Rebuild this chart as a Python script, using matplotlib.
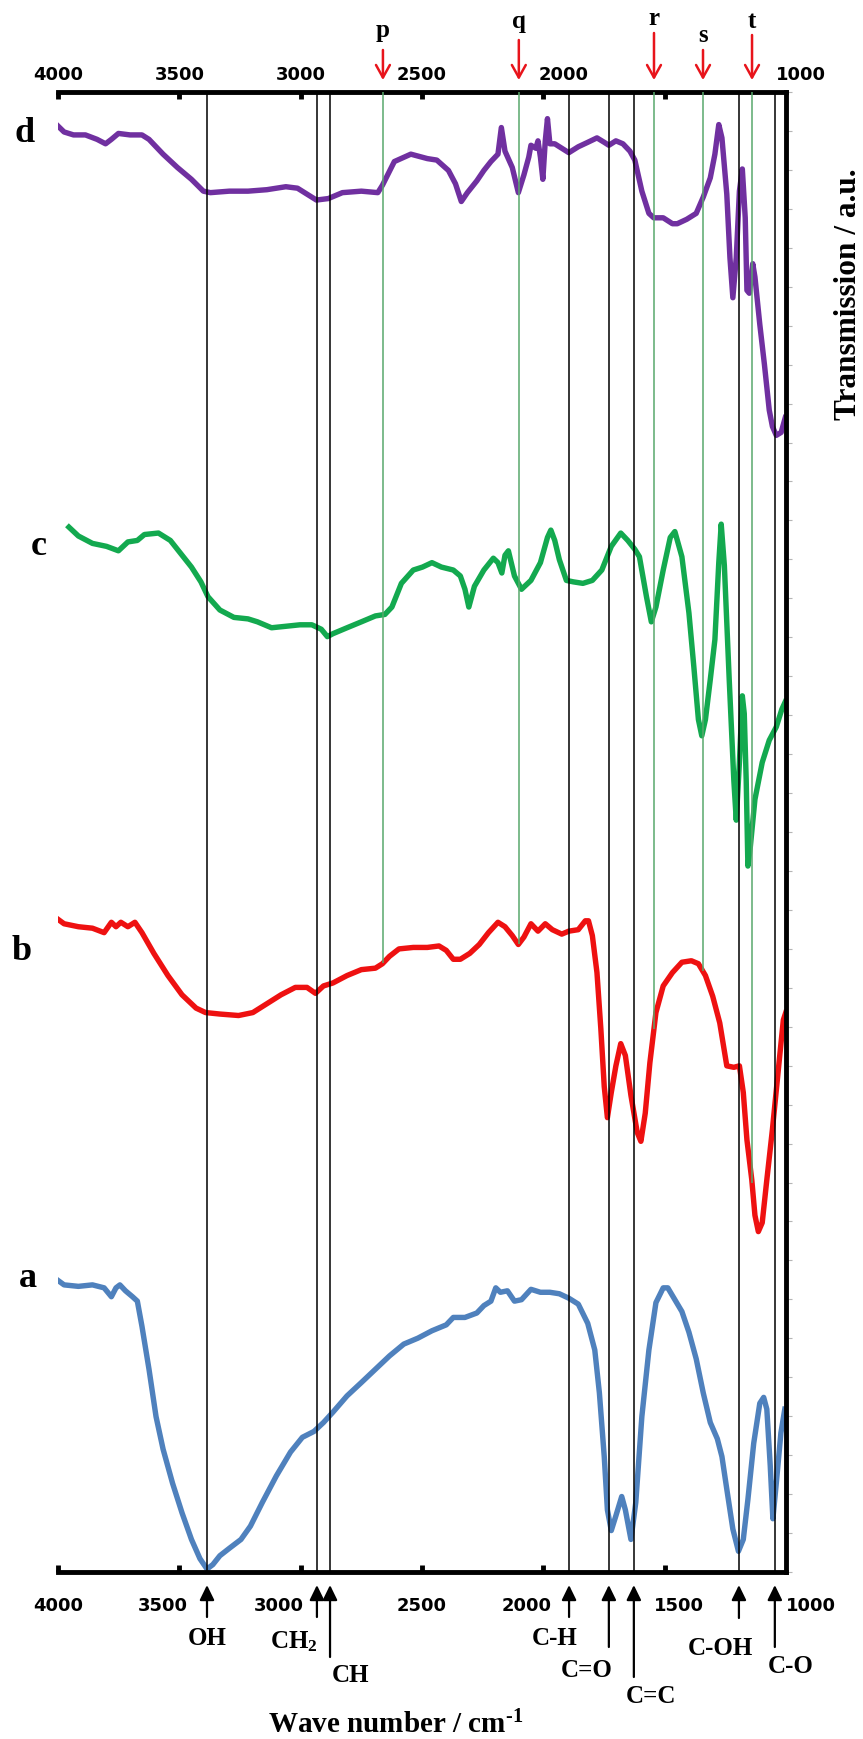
import numpy as np
import matplotlib
matplotlib.use('Agg')
import matplotlib.pyplot as plt
from matplotlib.patches import ArrowStyle
from matplotlib.transforms import blended_transform_factory

# FTIR spectra: wavenumber (cm-1) and transmission (a.u., 0-100 scale of the plot)
wn_a = [4000, 3975, 3916, 3858, 3810, 3780, 3761, 3745, 3722, 3693,
        3673, 3654, 3625, 3596, 3567, 3528, 3489, 3450, 3415, 3386,
        3362, 3333, 3294, 3246, 3207, 3158, 3100, 3042, 2993, 2945,
        2906, 2867, 2809, 2750, 2692, 2634, 2575, 2517, 2459, 2400,
        2371, 2323, 2274, 2245, 2216, 2196, 2177, 2148, 2119, 2090,
        2051, 2012, 1973, 1934, 1895, 1856, 1817, 1788, 1769, 1749,
        1736, 1720, 1701, 1677, 1662, 1639, 1619, 1594, 1565, 1536,
        1506, 1487, 1458, 1429, 1400, 1370, 1341, 1312, 1283, 1264,
        1244, 1219, 1196, 1176, 1157, 1133, 1108, 1092, 1079, 1065,
        1054, 1040, 1021, 1005]
tr_a = [19.7, 19.4, 19.3, 19.4, 19.2, 18.6, 19.2, 19.4, 19.0, 18.6,
        18.3, 16.6, 13.7, 10.5, 8.3, 6.0, 4.0, 2.2, 0.9, 0.2,
        0.5, 1.1, 1.6, 2.2, 3.1, 4.7, 6.5, 8.1, 9.1, 9.5,
        10.1, 10.8, 11.9, 12.8, 13.7, 14.6, 15.4, 15.8, 16.3, 16.7,
        17.2, 17.2, 17.5, 18.0, 18.3, 19.2, 18.9, 19.0, 18.3, 18.4,
        19.1, 18.9, 18.9, 18.8, 18.5, 18.1, 16.8, 15.0, 12.1, 7.8,
        4.2, 2.8, 3.8, 5.1, 4.2, 2.2, 4.7, 10.5, 15.0, 18.2,
        19.2, 19.2, 18.4, 17.6, 16.2, 14.4, 12.1, 10.1, 9.0, 7.8,
        5.6, 2.9, 1.4, 2.2, 4.9, 8.7, 11.4, 11.8, 11.0, 7.2,
        3.6, 6.0, 9.4, 11.0]

wn_b = [4000, 3975, 3916, 3858, 3810, 3780, 3761, 3741, 3712, 3683,
        3654, 3605, 3547, 3489, 3431, 3392, 3333, 3256, 3197, 3139,
        3081, 3022, 2974, 2939, 2906, 2867, 2809, 2750, 2692, 2663,
        2634, 2595, 2536, 2478, 2430, 2400, 2371, 2342, 2303, 2264,
        2226, 2187, 2158, 2128, 2103, 2080, 2051, 2022, 1992, 1963,
        1924, 1895, 1856, 1827, 1814, 1798, 1779, 1763, 1749, 1736,
        1720, 1701, 1681, 1662, 1639, 1613, 1598, 1580, 1561, 1536,
        1506, 1468, 1429, 1390, 1361, 1332, 1302, 1273, 1244, 1215,
        1192, 1176, 1161, 1141, 1128, 1114, 1098, 1079, 1056, 1030,
        1011, 1001]
tr_b = [44.1, 43.8, 43.6, 43.5, 43.2, 43.9, 43.6, 43.9, 43.6, 43.9,
        43.2, 41.8, 40.3, 39.0, 38.1, 37.8, 37.7, 37.6, 37.8, 38.4,
        39.0, 39.5, 39.5, 39.1, 39.6, 39.8, 40.3, 40.7, 40.8, 41.1,
        41.6, 42.1, 42.2, 42.2, 42.3, 42.0, 41.4, 41.4, 41.8, 42.4,
        43.2, 43.9, 43.6, 43.0, 42.4, 42.9, 43.8, 43.3, 43.8, 43.4,
        43.1, 43.3, 43.4, 44.0, 44.0, 43.0, 40.5, 36.7, 32.8, 30.7,
        32.4, 34.2, 35.7, 34.9, 32.2, 29.7, 29.1, 31.0, 34.4, 37.8,
        39.6, 40.5, 41.2, 41.3, 41.1, 40.3, 38.9, 37.1, 34.2, 34.1,
        34.2, 32.4, 29.2, 26.5, 24.1, 23.0, 23.6, 26.5, 29.9, 34.2,
        37.3, 37.8]

wn_c = [3955, 3916, 3858, 3800, 3751, 3712, 3673, 3644, 3586, 3537,
        3508, 3450, 3411, 3382, 3333, 3275, 3217, 3178, 3120, 3061,
        3003, 2954, 2915, 2890, 2867, 2809, 2750, 2692, 2653, 2624,
        2585, 2536, 2498, 2459, 2420, 2371, 2342, 2323, 2307, 2284,
        2245, 2206, 2187, 2171, 2158, 2144, 2119, 2090, 2051, 2012,
        1983, 1969, 1953, 1934, 1905, 1876, 1837, 1798, 1759, 1720,
        1681, 1652, 1623, 1604, 1575, 1555, 1536, 1506, 1477, 1458,
        1429, 1400, 1380, 1361, 1347, 1332, 1312, 1293, 1277, 1267,
        1254, 1234, 1215, 1205, 1192, 1180, 1172, 1164, 1157, 1147,
        1128, 1098, 1069, 1040, 1017, 1003]
tr_c = [70.6, 70.0, 69.5, 69.3, 69.0, 69.6, 69.7, 70.1, 70.2, 69.7,
        69.1, 67.9, 66.9, 65.9, 65.0, 64.5, 64.4, 64.2, 63.8, 63.9,
        64.0, 64.0, 63.7, 63.2, 63.4, 63.8, 64.2, 64.6, 64.7, 65.2,
        66.8, 67.7, 67.9, 68.2, 67.9, 67.7, 67.3, 66.4, 65.2, 66.6,
        67.7, 68.5, 68.2, 67.5, 68.7, 69.0, 67.3, 66.4, 67.0, 68.2,
        69.9, 70.4, 69.7, 68.4, 67.0, 66.9, 66.8, 67.0, 67.7, 69.3,
        70.2, 69.7, 69.1, 68.6, 65.9, 64.2, 65.2, 67.7, 69.9, 70.3,
        68.6, 64.8, 61.2, 57.6, 56.5, 57.6, 60.3, 63.0, 68.2, 70.8,
        68.0, 60.3, 53.5, 50.8, 54.7, 59.2, 58.0, 53.5, 47.7, 49.0,
        52.2, 54.7, 56.2, 57.1, 58.3, 58.8]

wn_d = [4000, 3975, 3936, 3887, 3839, 3804, 3780, 3751, 3703, 3654,
        3625, 3567, 3508, 3450, 3401, 3372, 3294, 3217, 3139, 3061,
        3013, 2974, 2935, 2886, 2828, 2750, 2682, 2663, 2614, 2546,
        2478, 2439, 2391, 2362, 2338, 2313, 2274, 2245, 2216, 2187,
        2173, 2158, 2128, 2103, 2080, 2060, 2051, 2031, 2022, 2012,
        2002, 1992, 1983, 1973, 1953, 1924, 1895, 1856, 1817, 1779,
        1749, 1730, 1701, 1672, 1643, 1623, 1594, 1565, 1545, 1506,
        1468, 1448, 1409, 1370, 1341, 1312, 1293, 1277, 1264, 1244,
        1231, 1219, 1205, 1192, 1180, 1168, 1161, 1151, 1137, 1128,
        1108, 1089, 1069, 1056, 1040, 1020, 1003]
tr_d = [97.7, 97.3, 97.1, 97.1, 96.8, 96.5, 96.8, 97.2, 97.1, 97.1,
        96.8, 95.8, 94.9, 94.1, 93.3, 93.2, 93.3, 93.3, 93.4, 93.6,
        93.5, 93.1, 92.7, 92.8, 93.2, 93.3, 93.2, 93.7, 95.3, 95.8,
        95.5, 95.4, 94.7, 93.8, 92.6, 93.2, 94.0, 94.7, 95.3, 95.8,
        97.6, 96.0, 94.9, 93.2, 94.4, 95.6, 96.4, 96.2, 96.7, 95.6,
        94.1, 96.7, 98.2, 96.5, 96.5, 96.2, 95.9, 96.3, 96.6, 96.9,
        96.6, 96.4, 96.7, 96.5, 96.0, 95.4, 93.3, 91.8, 91.5, 91.5,
        91.1, 91.1, 91.4, 91.8, 92.9, 94.2, 95.8, 97.8, 96.9, 93.1,
        88.8, 86.1, 88.8, 93.3, 94.8, 91.5, 86.6, 86.4, 88.4, 87.5,
        84.3, 81.6, 78.5, 77.4, 76.8, 77.0, 78.0]

# band assignments (black lines, arrows under the axis)
band_wn = [3386, 2933, 2879, 1894, 1730, 1627, 1194, 1046]
band_labels = ['OH', 'CH$_2$', 'CH', 'C-H', 'C=O', 'C=C', 'C-OH', 'C-O']
# new bands (green lines, red arrows over the axis)
new_wn = [2661, 2101, 1544, 1342, 1140]
new_labels = ['p', 'q', 'r', 's', 't']
tick_wn = [4000, 3500, 3000, 2500, 2000, 1500, 1000]

plt.rcParams['mathtext.default'] = 'regular'
SERIF = 'Liberation Serif'

W, H = 863, 1739
fig = plt.figure(figsize=(W / 100, H / 100), dpi=100)
# axes box in pixels (left, right, top, bottom)
L, R, T, B = 58, 786, 92, 1572
ax = fig.add_axes([L / W, 1 - B / H, (R - L) / W, (B - T) / H])
ax.set_xlim(4000, 1000)
ax.set_ylim(0, 100)

# spectra
ax.plot(wn_a, tr_a, color='#4f81bd', lw=3.9, solid_joinstyle='round', zorder=2)
ax.plot(wn_b, tr_b, color='#ee1111', lw=3.9, solid_joinstyle='round', zorder=2)
ax.plot(wn_c, tr_c, color='#13a94f', lw=3.9, solid_joinstyle='round', zorder=2)
ax.plot(wn_d, tr_d, color='#7030a0', lw=3.9, solid_joinstyle='round', zorder=2)

# reference lines
for w in band_wn:
    ax.axvline(w, color='black', lw=1.1, zorder=3)
b_at = np.interp(new_wn, wn_b[::-1], tr_b[::-1])
ax.vlines(new_wn, b_at, 100, color='#58a86c', lw=1.1, zorder=3)

# frame: thick top/bottom/right, no left
ax.spines['left'].set_visible(False)
for side in ['top', 'bottom', 'right']:
    ax.spines[side].set_linewidth(3.5)
ax.set_xticks(tick_wn[:-1])
ax.tick_params(axis='x', direction='in', length=5, width=3.5, top=True, bottom=True,
               labelbottom=False, labeltop=False)
ax.yaxis.set_ticks_position('right')
ax.set_yticks(np.linspace(0, 100, 39))
ax.tick_params(axis='y', direction='out', length=4, width=0.8, color='#b5b5b5', labelright=False)

trans = blended_transform_factory(ax.transData, ax.transAxes)

# tick labels (some nudged sideways to make room for the arrows)
bot_shift = [0, -17, -22, 0, -17, 14, 25]
top_shift = [0, 0, 0, 0, 20, None, 15]
for w, dxb, dxt in zip(tick_wn, bot_shift, top_shift):
    ax.annotate(str(w), xy=(w, 0), xycoords=trans, xytext=(dxb, -25), textcoords='offset pixels',
                ha='center', va='top', fontsize=13, fontweight='bold', annotation_clip=False)
    if dxt is not None:
        ax.annotate(str(w), xy=(w, 1), xycoords=trans, xytext=(dxt, 12), textcoords='offset pixels',
                    ha='center', va='baseline', fontsize=13, fontweight='bold', annotation_clip=False)

# arrows under the axis: tail length, label offset x, label baseline below axis (pixels)
band_tail = [45, 45, 85, 45, 75, 105, 46, 75]
band_dx = [0, -23, 20, -14, -22, 17, -19, 16]
band_base = [73, 76, 110, 73, 105, 131, 83, 101]
black_head = ArrowStyle('-|>', head_length=0.45, head_width=0.22)
for w, lab, tail, dx, base in zip(band_wn, band_labels, band_tail, band_dx, band_base):
    ax.annotate('', xy=(w, 0), xycoords=trans, xytext=(0, -tail), textcoords='offset pixels',
                arrowprops=dict(arrowstyle=black_head, mutation_scale=20, color='black', lw=1.6,
                                shrinkA=0, shrinkB=9.4), annotation_clip=False)
    ax.annotate(lab, xy=(w, 0), xycoords=trans, xytext=(dx, -base), textcoords='offset pixels',
                ha='center', va='baseline', fontsize=18, fontweight='bold', family=SERIF,
                annotation_clip=False)

# red arrows over the axis
new_tail = [42, 52, 59, 42, 57]
new_base = [55, 64, 67, 50, 64]
red_head = ArrowStyle('->', head_length=0.45, head_width=0.25)
for w, lab, tail, base in zip(new_wn, new_labels, new_tail, new_base):
    ax.annotate('', xy=(w, 1), xycoords=trans, xytext=(0, tail), textcoords='offset pixels',
                arrowprops=dict(arrowstyle=red_head, mutation_scale=20, color='#e8141b', lw=1.8,
                                shrinkA=0, shrinkB=8.6), annotation_clip=False)
    ax.annotate(lab, xy=(w, 1), xycoords=trans, xytext=(0, base), textcoords='offset pixels',
                ha='center', va='baseline', fontsize=18, fontweight='bold', family=SERIF,
                annotation_clip=False)

# sample letters next to each spectrum
for lab, x, y in [('d', 25, 142), ('c', 39, 555), ('b', 22, 960), ('a', 28, 1287)]:
    fig.text(x / W, 1 - y / H, lab, ha='center', va='baseline', fontsize=26,
             fontweight='bold', family=SERIF)

fig.text(396 / W, 1 - 1733 / H, 'Wave number / cm$^{\u2010' + '1}$', ha='center', va='baseline',
         fontsize=21, fontweight='bold', family=SERIF)
fig.text(848 / W, 1 - 294 / H, 'Transmission / a.u.', rotation=90, ha='center', va='center',
         fontsize=22.5, fontweight='bold', family=SERIF)

fig.savefig('out.png', dpi=100)
